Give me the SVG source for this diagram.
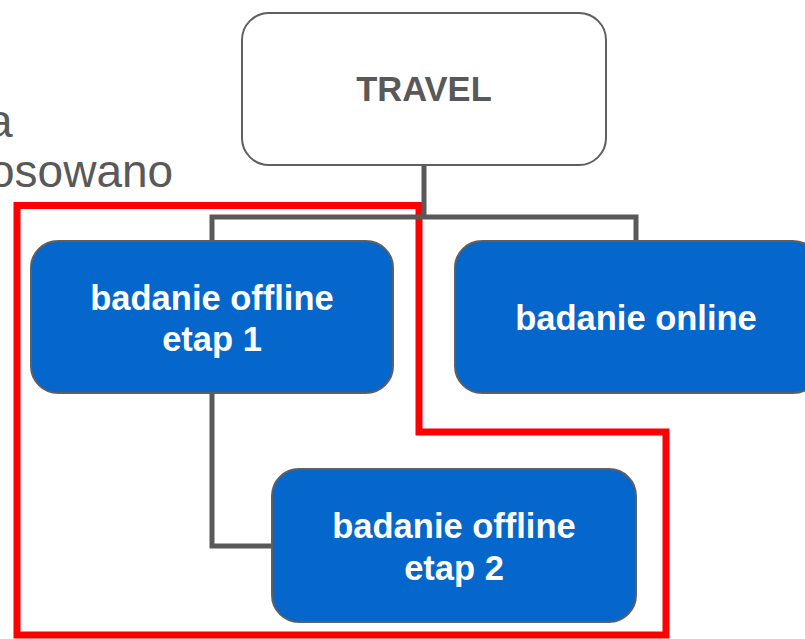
<svg xmlns="http://www.w3.org/2000/svg" width="805" height="639" viewBox="0 0 805 639">
  <style>
    .box { fill: #0566CC; stroke: #5f5f5f; stroke-width: 2; }
    .root { fill: #ffffff; stroke: #5f5f5f; stroke-width: 2; }
    .lbl { font-family: "Liberation Sans", Arial, sans-serif; font-weight: bold; font-size: 34.5px; fill: #ffffff; text-anchor: middle; }
    .rootlbl { font-family: "Liberation Sans", Arial, sans-serif; font-weight: bold; font-size: 34.5px; fill: #595959; text-anchor: middle; }
    .side { font-family: "Liberation Sans", Arial, sans-serif; font-size: 46px; fill: #595959; }
    .conn { fill: none; stroke: #595959; stroke-width: 5; }
    .hl { fill: none; stroke: #ff0000; stroke-width: 7; }
  </style>
  <rect width="805" height="639" fill="#ffffff"/>
  <g id="side-text">
    <text class="side" x="-13" y="137">a</text>
    <text class="side" x="-11" y="187">osowano</text>
  </g>
  <g id="highlight">
    <path class="hl" d="M17,635 L17,205.5 L419,205.5 L419,432 L666,432 L666,635 Z"/>
  </g>
  <g id="connectors">
    <path class="conn" d="M424,165 V217"/>
    <path class="conn" d="M212,241 V217 H636 V241"/>
    <path class="conn" d="M212,393 V546 H272"/>
  </g>
  <g id="travel">
    <rect class="root" x="242" y="13" width="364" height="152" rx="27"/>
    <text class="rootlbl" x="424" y="101">TRAVEL</text>
  </g>
  <g id="offline1">
    <rect class="box" x="31" y="241" width="362" height="152" rx="27"/>
    <text class="lbl" x="212" y="310">badanie offline</text>
    <text class="lbl" x="212" y="351">etap 1</text>
  </g>
  <g id="online">
    <rect class="box" x="455" y="241" width="365" height="152" rx="27"/>
    <text class="lbl" x="636" y="330">badanie online</text>
  </g>
  <g id="offline2">
    <rect class="box" x="272" y="469" width="364" height="153" rx="27"/>
    <text class="lbl" x="454" y="538">badanie offline</text>
    <text class="lbl" x="454" y="580">etap 2</text>
  </g>
</svg>
